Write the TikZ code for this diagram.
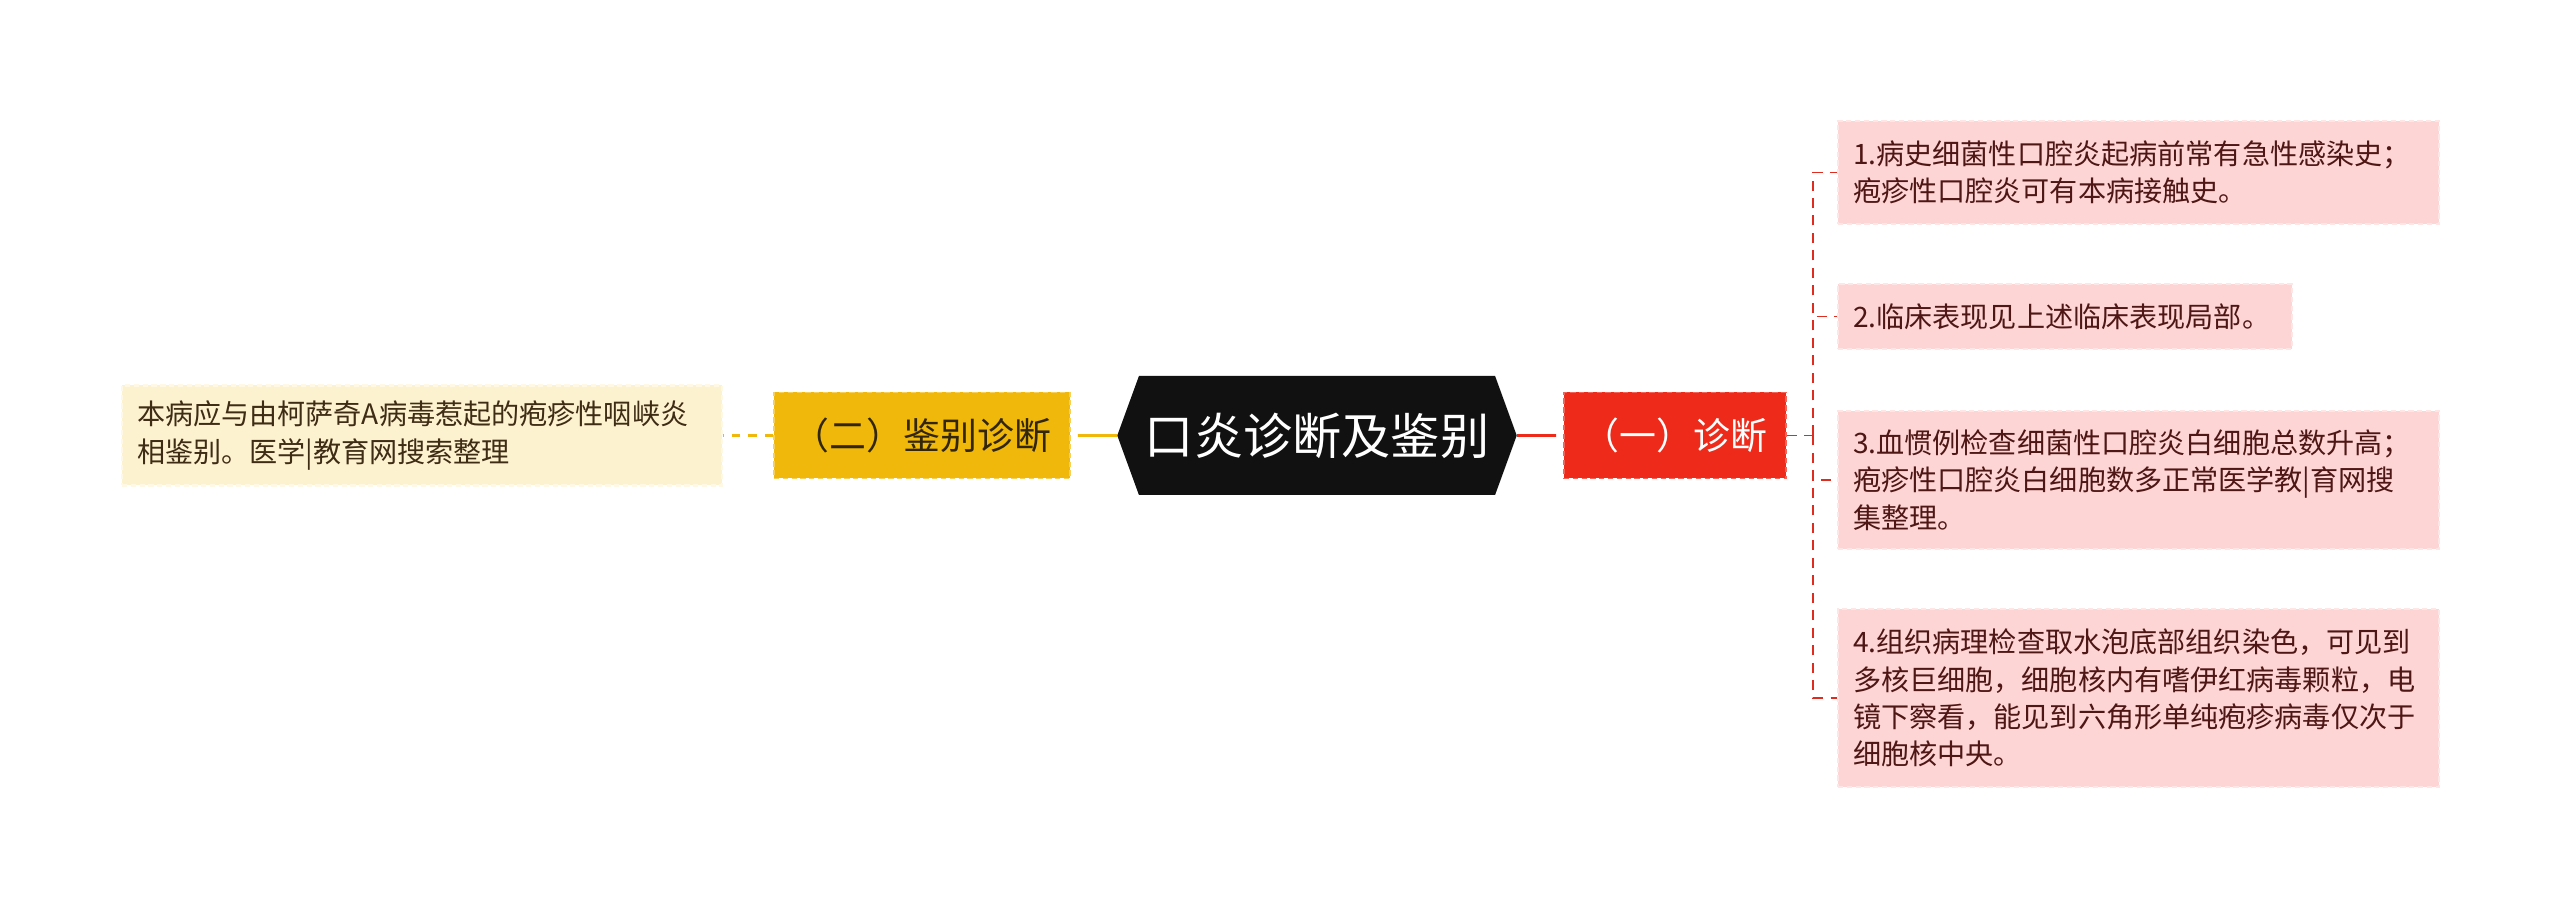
\documentclass[tikz,border=0pt]{standalone}
\usepackage{fontspec}
\setmainfont{Noto Sans CJK SC}
\usetikzlibrary{shapes.symbols}

\definecolor{rootfill}{RGB}{17,17,17}
\definecolor{diagred}{RGB}{238,43,27}
\definecolor{diagredline}{RGB}{245,100,88}
\definecolor{diffyellow}{RGB}{240,184,10}
\definecolor{diffyellowline}{RGB}{247,208,90}
\definecolor{difftext}{RGB}{50,38,8}
\definecolor{notefill}{RGB}{253,242,208}
\definecolor{noteline}{RGB}{254,248,228}
\definecolor{notetext}{RGB}{62,44,20}
\definecolor{leafpink}{RGB}{252,213,212}
\definecolor{leafpinkline}{RGB}{253,230,229}
\definecolor{leafpinktext}{RGB}{78,22,20}
\definecolor{branchred}{RGB}{222,44,32}

\begin{document}
\begin{tikzpicture}
    % settings for this picture
    \tikzset{
      topic/.style={draw, line width=1pt, dash pattern=on 3pt off 2pt,
        minimum height=1.72cm, inner xsep=0.3cm},
      diag/.style={topic, fill=diagred, draw=diagredline, text=white,
        minimum width=4.44cm, font=\fontsize{21pt}{25pt}\selectfont},
      diff/.style={topic, fill=diffyellow, draw=diffyellowline, text=difftext,
        minimum width=5.92cm, font=\fontsize{21pt}{25pt}\selectfont},
      leaf/.style={draw, line width=1.2pt, dash pattern=on 3pt off 2pt,
        inner xsep=0.3cm, align=left, font=\fontsize{16pt}{21.3pt}\selectfont},
      redleaf/.style={leaf, anchor=west, fill=leafpink, draw=leafpinkline,
        text=leafpinktext, text width=11.42cm},
      branch/.style={draw=branchred, line width=1.1pt, dash pattern=on 0.2cm off 0.15cm},
    }

    \useasboundingbox (0,0) rectangle (51.2,18.18);

    % topics
    \node[signal, signal to=east and west, signal pointer angle=140,
      fill=rootfill, text=white, minimum width=7.88cm, minimum height=2.38cm,
      font=\fontsize{28pt}{32pt}\selectfont] (root) at (26.34,9.47) {口炎诊断及鉴别};
    \node[diag] (diag) at (33.5,9.47) {（一）诊断};
    \node[diff] (diff) at (18.44,9.47) {（二）鉴别诊断};

    % notes
    \node[leaf, fill=notefill, draw=noteline, text=notetext, text width=11.4cm,
      minimum height=2cm] (note) at (8.44,9.47)
      {本病应与由柯萨奇A病毒惹起的疱疹性咽峡炎\\相鉴别。医学|教育网搜索整理};
    \node[redleaf, minimum height=2.06cm] (d1) at (36.74,14.73)
      {1.病史细菌性口腔炎起病前常有急性感染史；\\疱疹性口腔炎可有本病接触史。};
    \node[redleaf, text width=8.48cm, minimum height=1.3cm] (d2) at (36.74,11.85)
      {2.临床表现见上述临床表现局部。};
    \node[redleaf, minimum height=2.76cm] (d3) at (36.74,8.58)
      {3.血惯例检查细菌性口腔炎白细胞总数升高；\\疱疹性口腔炎白细胞数多正常医学教|育网搜\\集整理。};
    \node[redleaf, minimum height=3.56cm] (d4) at (36.74,4.22)
      {4.组织病理检查取水泡底部组织染色，可见到\\多核巨细胞，细胞核内有嗜伊红病毒颗粒，电\\镜下察看，能见到六角形单纯疱疹病毒仅次于\\细胞核中央。};

    \coordinate (fork) at (36.26,9.47);

    % links
    \draw[diffyellow, line width=1.7pt, dash pattern=on 0.78cm off 0.16cm] (root) -- (diff);
    \draw[diffyellow, line width=1.7pt, dash pattern=on 0.17cm off 0.16cm] (diff) -- (note);
    \draw[diagred, line width=1.7pt, dash pattern=on 0.78cm off 0.16cm] (root) -- (diag);
    \draw[branch] (diag.east) -- (fork)
          (fork) |- (d1.west)
          (fork) |- (d2.west)
          (fork) |- (d3.west)
          (fork) |- (d4.west);

  \end{tikzpicture}
\end{document}
